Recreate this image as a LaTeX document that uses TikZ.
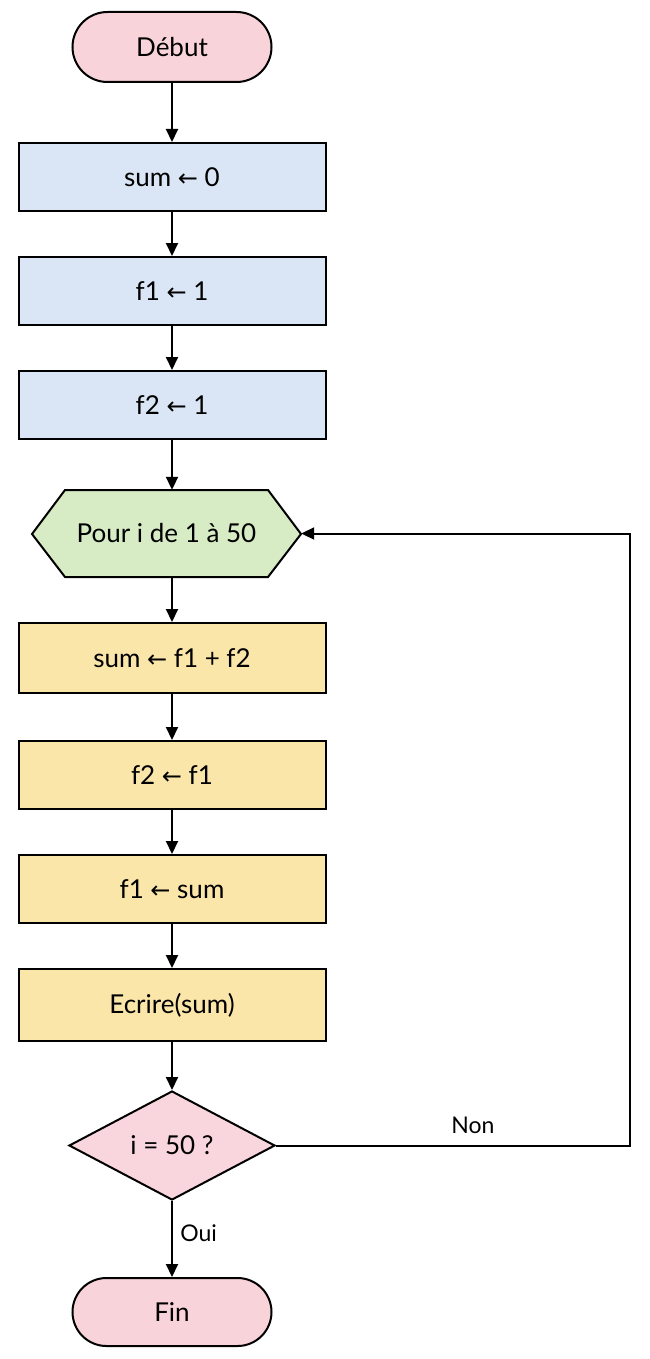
\documentclass[tikz,border=0pt]{standalone}
\usepackage{fontspec}
\setmainfont{Lato}
\newfontfamily\dejavu{DejaVu Sans}
\usetikzlibrary{shapes.misc,shapes.geometric,arrows.meta}
\definecolor{termpink}{HTML}{F8D3D9}
\definecolor{boxblue}{HTML}{DAE6F6}
\definecolor{hexgreen}{HTML}{D7EBC4}
\definecolor{boxyellow}{HTML}{FBE6AA}
\definecolor{decpink}{HTML}{F9D6DD}
\newcommand{\la}{{\dejavu\fontsize{24}{28}\selectfont ←}}
\tikzset{
  x=1pt, y=-1pt,
  every node/.style={font=\fontsize{26}{30}\selectfont, text=black},
  term/.style={rounded rectangle, draw=black, line width=2pt, fill=termpink, minimum width=199pt, minimum height=70pt, inner sep=0pt},
  bluebox/.style={rectangle, draw=black, line width=2pt, fill=boxblue, minimum width=307pt, minimum height=68pt, inner sep=0pt},
  yelbox/.style={rectangle, draw=black, line width=2pt, fill=boxyellow, minimum width=307pt, minimum height=70pt, inner sep=0pt},
  dec/.style={diamond, draw=black, line width=2pt, fill=decpink, minimum width=206pt, minimum height=109pt, inner sep=0pt},
  conn/.style={line width=2pt, -{Triangle[length=13pt,width=12pt]}},
  lbl/.style={font=\fontsize{23}{27}\selectfont}
}
\begin{document}
\begin{tikzpicture}
\useasboundingbox (0,0) rectangle (650,1359);
\fill[white] (0,0) rectangle (650,1359);
\node[term] (debut) at (172,47) {Début};
\node[bluebox] (s0) at (172,177) {sum \la\ 0};
\node[bluebox] (f1a) at (172,291) {f1 \la\ 1};
\node[bluebox] (f2a) at (172,405) {f2 \la\ 1};
% hexagon
\draw[line width=2pt, fill=hexgreen] (32,534) -- (65,490) -- (268,490) -- (301,534) -- (268,577) -- (65,577) -- cycle;
\node[rectangle, minimum width=258pt, minimum height=87pt, inner sep=0pt] (pour) at (172,533.5) {};
\node at (166.5,533.5) {Pour i de 1 à 50};
\node[yelbox] (sum) at (172,658) {sum \la\ f1 + f2};
\node[yelbox, minimum height=68pt] (f2b) at (172,775) {f2 \la\ f1};
\node[yelbox, minimum height=68pt] (f1b) at (172,889) {f1 \la\ sum};
\node[yelbox, minimum height=72pt] (ecr) at (172,1005) {Ecrire(sum)};
\node[dec] (test) at (172,1145.5) {i = 50 ?};
\node[term, minimum height=68pt] (fin) at (172,1312) {Fin};
\coordinate (c1) at (630,1145.5);
\coordinate (c2) at (630,533.5);
\draw[conn] (debut) -- (s0);
\draw[conn] (s0) -- (f1a);
\draw[conn] (f1a) -- (f2a);
\draw[conn] (f2a) -- (pour.north);
\draw[conn] (pour.south) -- (sum);
\draw[conn] (sum) -- (f2b);
\draw[conn] (f2b) -- (f1b);
\draw[conn] (f1b) -- (ecr);
\draw[conn] (ecr) -- (test.north);
\draw[conn] (test.south) -- node[lbl, right, xshift=4pt, yshift=6pt] {Oui} (fin);
\draw[conn, line join=miter] (test.east) -- (c1) -- (c2) -- (pour.east);
\node[lbl] (non) at (473,1125) {Non};
\end{tikzpicture}
\end{document}
